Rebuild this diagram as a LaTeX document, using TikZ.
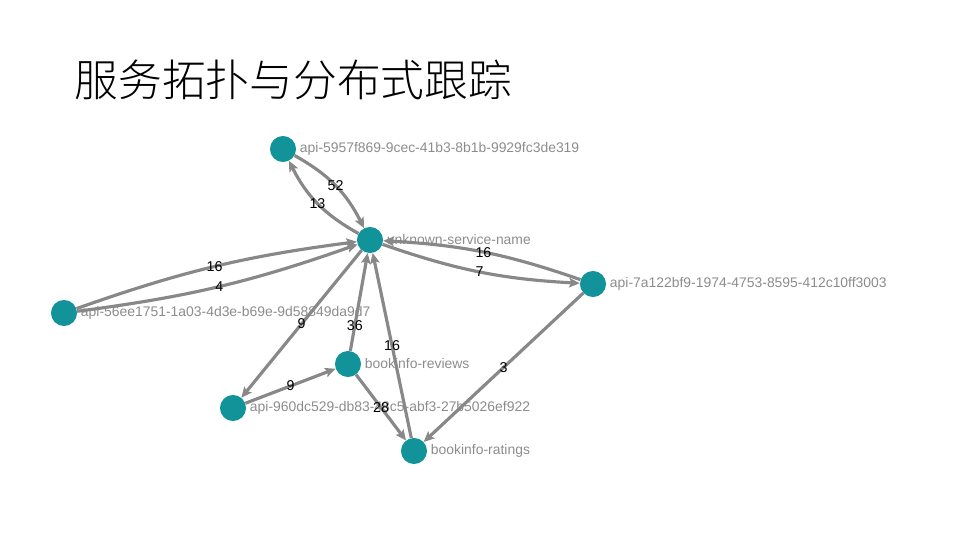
\documentclass[tikz,border=0pt]{standalone}
\usepackage{fontspec}
\setmainfont{Liberation Sans}
\newfontfamily\cjk{Noto Sans CJK SC Light}
\usepackage{xcolor}
\usepackage{tikz}
\usetikzlibrary{arrows.meta}
\definecolor{svcteal}{RGB}{18,147,154}
\definecolor{edgegray}{RGB}{136,136,136}
\definecolor{labelgray}{RGB}{140,140,140}
\tikzstyle{service} = [circle, fill=svcteal, minimum size=0.87cm, inner sep=0pt, label distance=-7pt]
\tikzstyle{svclabel} = [text=labelgray, font=\fontsize{13.2}{15}\selectfont]
\tikzstyle{flow} = [line width=3pt, draw=edgegray, ->, >={Stealth[length=10pt, width=9pt, inset=2pt]}]
\tikzstyle{count} = [font=\fontsize{13.5}{15}\selectfont, text=black, inner sep=0pt]

\begin{document}
\begin{tikzpicture}[x=0.033333cm, y=0.033333cm]
    \useasboundingbox (0,0) rectangle (960,-540);
    \node (title) [anchor=west, font=\cjk\fontsize{41.5}{48}\selectfont] at (71,-80) {服务拓扑与分布式跟踪};

    \node (unk) [service, label={[svclabel]right:unknown-service-name}] at (370,-240) {};
    \node (a5957) [service, label={[svclabel]right:api-5957f869-9cec-41b3-8b1b-9929fc3de319}] at (283,-149) {};
    \node (a56ee) [service, label={[svclabel]right:api-56ee1751-1a03-4d3e-b69e-9d58849da9d7}] at (64,-313) {};
    \node (a7a12) [service, label={[svclabel]right:api-7a122bf9-1974-4753-8595-412c10ff3003}] at (593,-284) {};
    \node (reviews) [service, label={[svclabel]right:bookinfo-reviews}] at (348,-364) {};
    \node (a960) [service, label={[svclabel]right:api-960dc529-db83-48c5-abf3-27b5026ef922}] at (233,-408) {};
    \node (ratings) [service, label={[svclabel]right:bookinfo-ratings}] at (414,-451) {};

    \draw [flow] (a5957) to[bend left=17] node[count] {52} (unk);
    \draw [flow] (unk) to[bend left=17] node[count] {13} (a5957);
    \draw [flow] (a56ee) to[bend left=6] node[count] {16} (unk);
    \draw [flow] (a56ee) to[bend right=6] node[count] {4} (unk);
    \draw [flow] (a7a12) to[bend right=8] node[count] {16} (unk);
    \draw [flow] (unk) to[bend right=8] node[count] {7} (a7a12);
    \draw [flow] (unk) -- node[count] {9} (a960);
    \draw [flow] (a960) -- node[count] {9} (reviews);
    \draw [flow] (reviews) -- node[count, pos=0.26] {36} (unk);
    \draw [flow] (ratings) -- node[count] {16} (unk);
    \draw [flow] (reviews) -- node[count] {28} (ratings);
    \draw [flow] (a7a12) -- node[count] {3} (ratings);
\end{tikzpicture}
\end{document}
